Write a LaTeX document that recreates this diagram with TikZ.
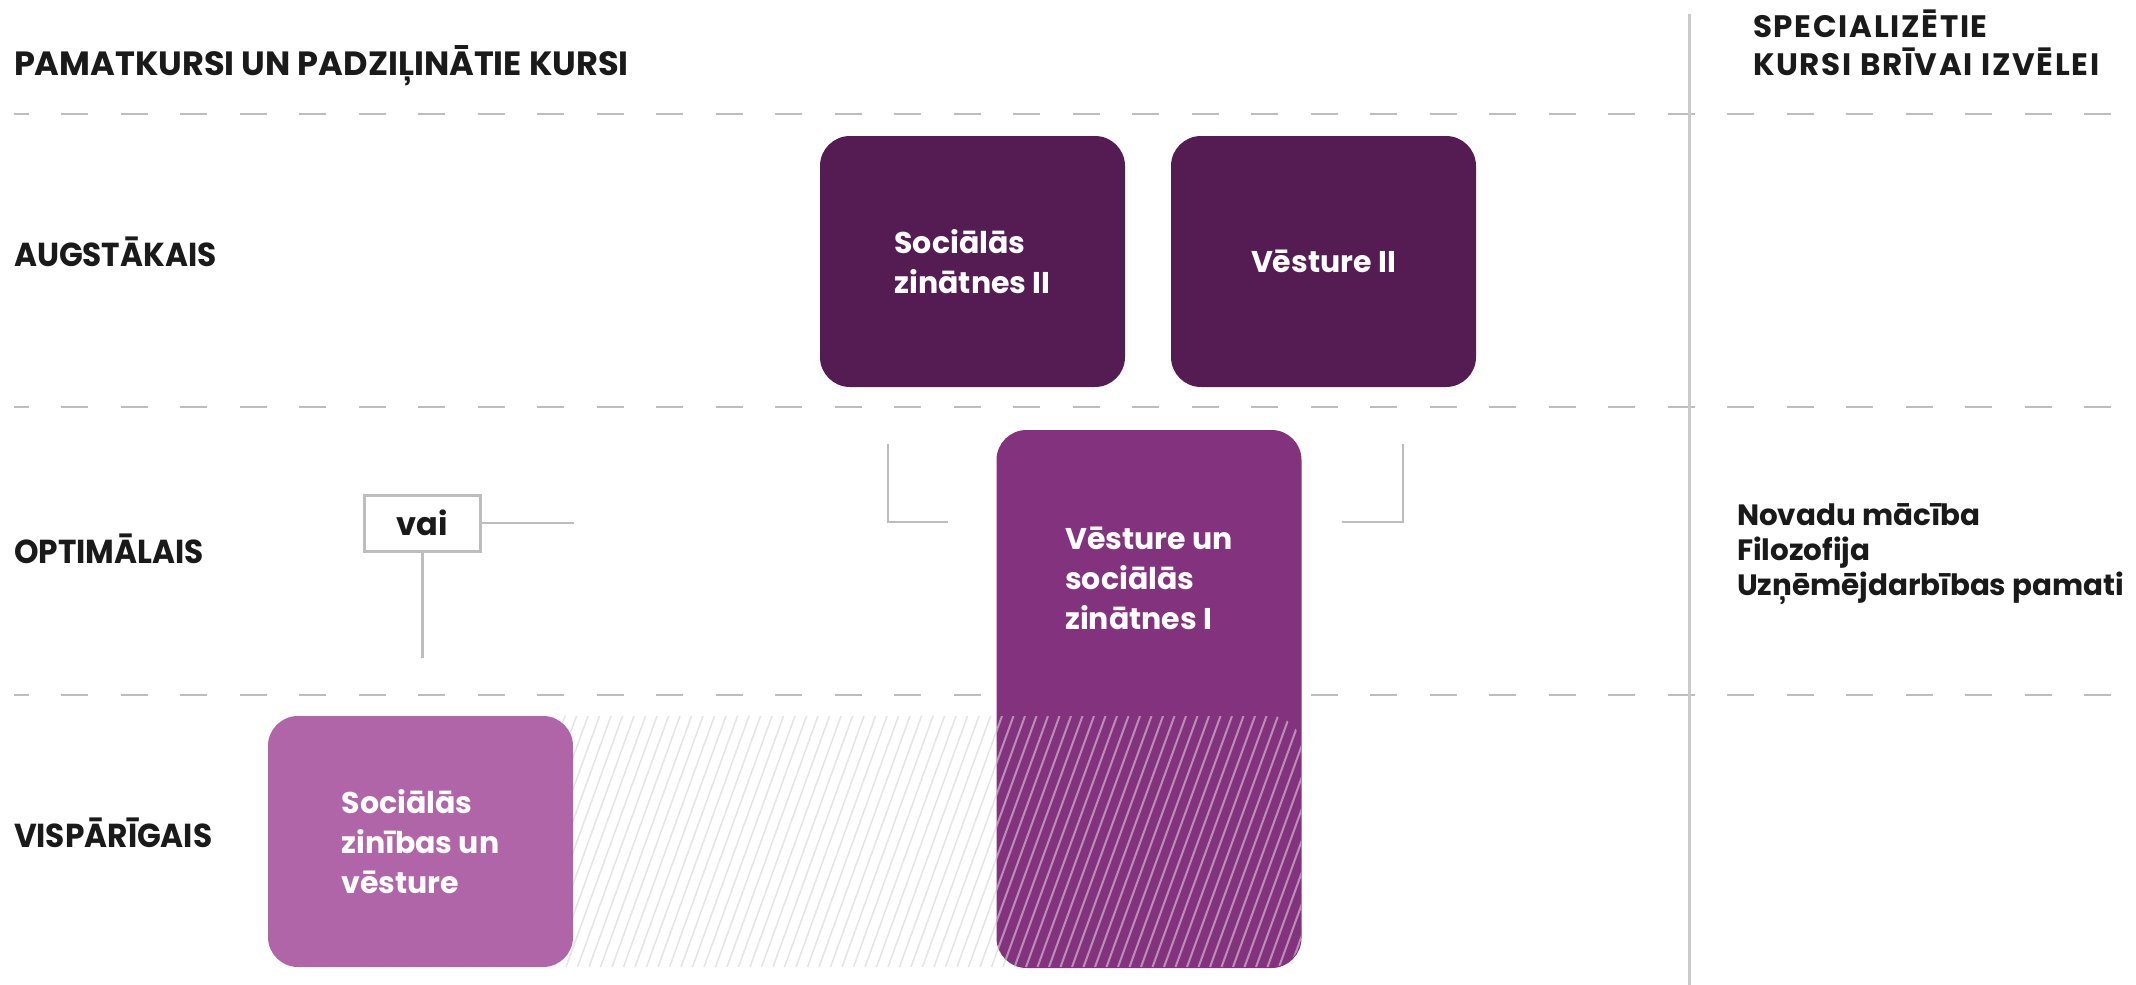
\documentclass[tikz,border=0pt]{standalone}
\usepackage{fontspec}
\setmainfont{Poppins}
\newfontfamily\narrowfont[FakeStretch=0.94]{Poppins}
\newfontfamily\widefont[LetterSpace=5.5]{Poppins}
\definecolor{plumdark}{HTML}{541C52}
\definecolor{plummid}{HTML}{83337D}
\definecolor{plumlight}{HTML}{B065A8}
\definecolor{rulegray}{HTML}{BDBDBD}
\definecolor{hatchgray}{HTML}{E4E4E4}
\definecolor{inkblack}{HTML}{1A1A1A}
\begin{document}
\begin{tikzpicture}[x=0.5pt,y=-0.5pt,
  every node/.style={inner sep=0pt,outer sep=0pt},
  course/.style={rounded corners=15pt,minimum width=152.5pt,minimum height=125.5pt,text=white,align=left,font=\bfseries\fontsize{15}{20}\selectfont},
  level/.style={anchor=base west,text=inkblack,font=\narrowfont\bfseries\fontsize{16.6}{19}\selectfont},
  rowline/.style={draw=rulegray,line width=1pt,dash pattern=on 13.5pt off 16.25pt,dash phase=6.25pt},
  link/.style={draw=rulegray,line width=1.25pt}]
\useasboundingbox (0,0) rectangle (2136,985);
% Rows and column
\draw[rowline] (14,114) -- (2118,114);
\draw[rowline] (14,407) -- (2118,407);
\draw[rowline] (14,695) -- (2118,695);
\draw[draw=rulegray!80,line width=1.5pt] (1689,14) -- (1689,985);
% Hatched band
\begin{scope}
\clip[rounded corners=15pt] (268,716) rectangle (1301,967);
\foreach \i in {0,...,99} \draw[hatchgray,line width=0.75pt] (175+\i*11.5,967) -- ++(91,-251);
\end{scope}
% Courses
\node(szII)[course,fill=plumdark] at (972.5,261.5) {Sociālās\\zinātnes II};
\node(vII)[course,fill=plumdark] at (1323.5,261.5) {Vēsture II};
\node(szv)[course,fill=plumlight] at (420.5,841.5) {Sociālās\\zinības un\\vēsture};
\node(vsz)[course,fill=plummid,minimum height=269pt] at (1149,699) {};
\begin{scope}
\clip[rounded corners=15pt] (268,716) rectangle (1301,967);
\clip[rounded corners=15pt] (vsz.south west) rectangle (vsz.north east);
\foreach \i in {0,...,99} \draw[white,opacity=0.45,line width=1pt] (175+\i*11.5,967) -- ++(91,-251);
\end{scope}
\node(vsztext)[course,minimum height=0pt,minimum width=0pt] at (1149,578) {Vēsture un\\sociālās\\zinātnes I};
% Brackets
\coordinate (bl1) at (888,444);
\coordinate (bl2) at (948,522);
\coordinate (br1) at (1342,522);
\coordinate (br2) at (1403,444);
\draw[link] (bl1) |- (bl2);
\draw[link] (br1) -| (br2);
% Choice
\node(vai)[draw=rulegray,line width=1.5pt,minimum width=58pt,minimum height=28pt,text=inkblack,font=\bfseries\fontsize{16}{20}\selectfont] at (422.5,523) {vai};
\coordinate (vaiR) at (574,523);
\coordinate (vaiB) at (422.5,658);
\draw[link] (vai.east) -- (vaiR);
\draw[link] (vai.south) -- (vaiB);
% Headings
\node(head)[level,font=\bfseries\fontsize{16.8}{19}\selectfont] at (14,75) {PAMATKURSI UN PADZIĻINĀTIE KURSI};
\node(high)[level] at (14,266) {AUGSTĀKAIS};
\node(opt)[level] at (14,563) {OPTIMĀLAIS};
\node(gen)[level] at (14,847) {VISPĀRĪGAIS};
\node(spec)[anchor=base west,align=left,text=inkblack,font=\widefont\bfseries\fontsize{15.5}{19}\selectfont] at (1753,75) {SPECIALIZĒTIE\\KURSI BRĪVAI IZVĒLEI};
\node(free)[anchor=base west,align=left,text=inkblack,font=\bfseries\fontsize{14.7}{17.5}\selectfont] at (1737,595) {Novadu mācība\\Filozofija\\Uzņēmējdarbības pamati};
\end{tikzpicture}
\end{document}
